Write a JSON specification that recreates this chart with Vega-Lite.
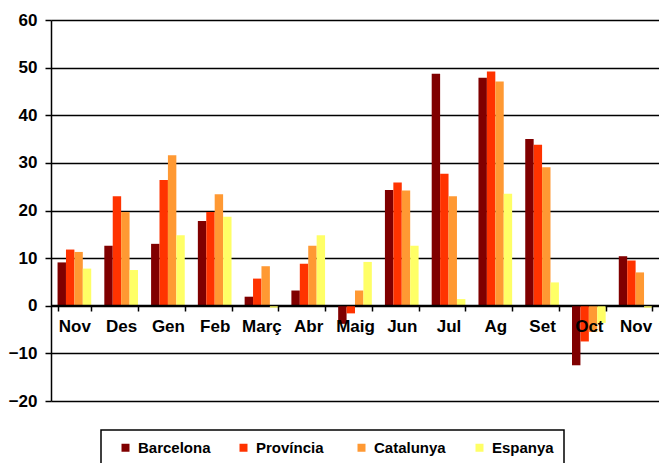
{
  "$schema": "https://vega.github.io/schema/vega-lite/v6.json",
  "width": 608,
  "height": 381,
  "autosize": "none",
  "padding": {"left": 51, "top": 20, "right": 0, "bottom": 62},
  "background": "white",
  "config": {
    "view": {"stroke": null},
    "font": "Liberation Sans"
  },
  "data": {
    "values": [
      {"periode": "Nov 1", "serie": "Barcelona", "valor": 9.1},
      {"periode": "Nov 1", "serie": "Província", "valor": 11.8},
      {"periode": "Nov 1", "serie": "Catalunya", "valor": 11.3},
      {"periode": "Nov 1", "serie": "Espanya", "valor": 7.8},
      {"periode": "Des 1", "serie": "Barcelona", "valor": 12.6},
      {"periode": "Des 1", "serie": "Província", "valor": 23.0},
      {"periode": "Des 1", "serie": "Catalunya", "valor": 19.7},
      {"periode": "Des 1", "serie": "Espanya", "valor": 7.5},
      {"periode": "Gen 2", "serie": "Barcelona", "valor": 13.0},
      {"periode": "Gen 2", "serie": "Província", "valor": 26.4},
      {"periode": "Gen 2", "serie": "Catalunya", "valor": 31.6},
      {"periode": "Gen 2", "serie": "Espanya", "valor": 14.8},
      {"periode": "Feb 2", "serie": "Barcelona", "valor": 17.8},
      {"periode": "Feb 2", "serie": "Província", "valor": 19.7},
      {"periode": "Feb 2", "serie": "Catalunya", "valor": 23.4},
      {"periode": "Feb 2", "serie": "Espanya", "valor": 18.7},
      {"periode": "Març 2", "serie": "Barcelona", "valor": 1.9},
      {"periode": "Març 2", "serie": "Província", "valor": 5.7},
      {"periode": "Març 2", "serie": "Catalunya", "valor": 8.3},
      {"periode": "Març 2", "serie": "Espanya", "valor": -0.4},
      {"periode": "Abr 2", "serie": "Barcelona", "valor": 3.2},
      {"periode": "Abr 2", "serie": "Província", "valor": 8.8},
      {"periode": "Abr 2", "serie": "Catalunya", "valor": 12.6},
      {"periode": "Abr 2", "serie": "Espanya", "valor": 14.8},
      {"periode": "Maig 2", "serie": "Barcelona", "valor": -3.8},
      {"periode": "Maig 2", "serie": "Província", "valor": -1.6},
      {"periode": "Maig 2", "serie": "Catalunya", "valor": 3.2},
      {"periode": "Maig 2", "serie": "Espanya", "valor": 9.2},
      {"periode": "Jun 2", "serie": "Barcelona", "valor": 24.3},
      {"periode": "Jun 2", "serie": "Província", "valor": 25.9},
      {"periode": "Jun 2", "serie": "Catalunya", "valor": 24.2},
      {"periode": "Jun 2", "serie": "Espanya", "valor": 12.6},
      {"periode": "Jul 2", "serie": "Barcelona", "valor": 48.7},
      {"periode": "Jul 2", "serie": "Província", "valor": 27.7},
      {"periode": "Jul 2", "serie": "Catalunya", "valor": 23.0},
      {"periode": "Jul 2", "serie": "Espanya", "valor": 1.4},
      {"periode": "Ag 2", "serie": "Barcelona", "valor": 47.9},
      {"periode": "Ag 2", "serie": "Província", "valor": 49.2},
      {"periode": "Ag 2", "serie": "Catalunya", "valor": 47.1},
      {"periode": "Ag 2", "serie": "Espanya", "valor": 23.5},
      {"periode": "Set 2", "serie": "Barcelona", "valor": 35.0},
      {"periode": "Set 2", "serie": "Província", "valor": 33.8},
      {"periode": "Set 2", "serie": "Catalunya", "valor": 29.1},
      {"periode": "Set 2", "serie": "Espanya", "valor": 4.9},
      {"periode": "Oct 2", "serie": "Barcelona", "valor": -12.5},
      {"periode": "Oct 2", "serie": "Província", "valor": -7.5},
      {"periode": "Oct 2", "serie": "Catalunya", "valor": -5.5},
      {"periode": "Oct 2", "serie": "Espanya", "valor": -3.6},
      {"periode": "Nov 2", "serie": "Barcelona", "valor": 10.4},
      {"periode": "Nov 2", "serie": "Província", "valor": 9.5},
      {"periode": "Nov 2", "serie": "Catalunya", "valor": 7.0},
      {"periode": "Nov 2", "serie": "Espanya", "valor": -0.4}
    ]
  },
  "mark": {"type": "bar"},
  "encoding": {
    "x": {
      "field": "periode",
      "type": "ordinal",
      "sort": null,
      "scale": {"paddingInner": 0.28, "paddingOuter": 0.14},
      "axis": {
        "title": null,
        "orient": "bottom",
        "offset": -96,
        "zindex": 1,
        "labelAngle": 0,
        "labelExpr": "split(datum.label, ' ')[0]",
        "labelFont": "Liberation Sans",
        "labelFontWeight": "bold",
        "labelFontSize": 17,
        "labelColor": "black",
        "labelPadding": 7,
        "tickBand": "extent",
        "tickSize": 6,
        "tickColor": "black",
        "tickWidth": 1.5,
        "domainColor": "black",
        "domainWidth": 1.5,
        "grid": false
      }
    },
    "xOffset": {
      "field": "serie",
      "type": "nominal",
      "sort": ["Barcelona", "Província", "Catalunya", "Espanya"],
      "scale": {"paddingInner": 0, "paddingOuter": 0}
    },
    "y": {
      "field": "valor",
      "type": "quantitative",
      "scale": {"domain": [-20, 60], "nice": false, "zero": false},
      "axis": {
        "title": null,
        "values": [-20, -10, 0, 10, 20, 30, 40, 50, 60],
        "labelFont": "Liberation Sans",
        "labelFontWeight": "bold",
        "labelFontSize": 17,
        "labelColor": "black",
        "labelPadding": 8,
        "tickSize": 6,
        "tickColor": "black",
        "tickWidth": 1.5,
        "domainColor": "black",
        "domainWidth": 1.5,
        "grid": true,
        "gridColor": "black",
        "gridWidth": 1.5,
        "gridOpacity": 1
      }
    },
    "color": {
      "field": "serie",
      "type": "nominal",
      "scale": {
        "domain": ["Barcelona", "Província", "Catalunya", "Espanya"],
        "range": ["#800000", "#ff3300", "#ff9933", "#ffff66"]
      },
      "legend": {
        "orient": "none",
        "legendX": 50,
        "legendY": 410,
        "direction": "horizontal",
        "columns": 4,
        "gridAlign": "all",
        "columnPadding": 25,
        "title": "\u00a0\u00a0\u00a0\u00a0\u00a0\u00a0\u00a0\u00a0\u00a0\u00a0",
        "titleOrient": "left",
        "titleFontSize": 15,
        "titlePadding": 7,
        "symbolType": "square",
        "symbolSize": 64,
        "symbolStrokeWidth": 0,
        "labelFont": "Liberation Sans",
        "labelFontWeight": "bold",
        "labelFontSize": 15,
        "labelColor": "black",
        "labelOffset": 5,
        "padding": 10,
        "strokeColor": "black",
        "fillColor": "white",
        "encode": {"legend": {"update": {"strokeWidth": {"value": 1.5}}}}
      }
    }
  }
}
